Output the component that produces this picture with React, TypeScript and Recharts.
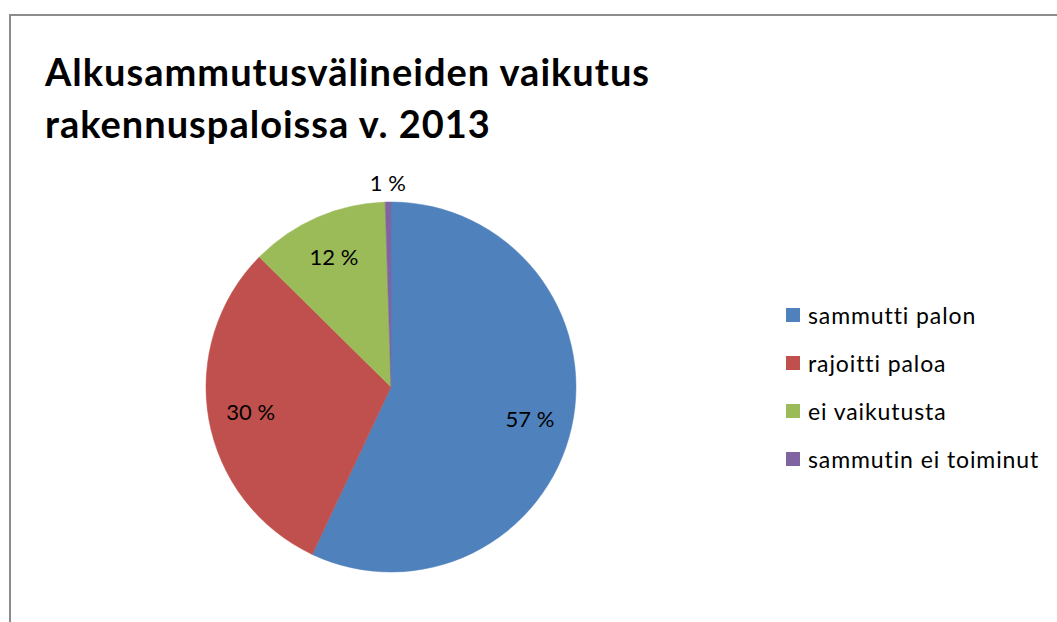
import { PieChart, Pie, Cell, Legend } from "recharts";

const categories = ["sammutti palon", "rajoitti paloa", "ei vaikutusta", "sammutin ei toiminut"];
const values = [57, 30.4, 12.1, 0.5];
const colors = ["#4F81BD", "#C0504D", "#9BBB59", "#8064A2"];
const title = ["Alkusammutusvälineiden vaikutus", "rakennuspaloissa v. 2013"];

const FONT = "Lato, 'Open Sans', sans-serif";

const data = categories.map((name, i) => ({ name, value: values[i] }));

function renderLabel(props: any) {
  const { cx, cy, midAngle, outerRadius, percent } = props;
  const RAD = Math.PI / 180;
  const r = percent < 0.02 ? outerRadius + 20 : outerRadius * 0.77;
  const x = cx + r * Math.cos(-midAngle * RAD);
  const y = cy + r * Math.sin(-midAngle * RAD);
  return (
    <text
      x={x}
      y={y}
      fill="#000"
      textAnchor="middle"
      dominantBaseline="central"
      style={{ fontFamily: FONT, fontSize: 22 }}
    >
      {`${Math.round(percent * 100)} %`}
    </text>
  );
}

function LegendBox() {
  return (
    <div style={{ fontFamily: FONT, fontSize: 23, letterSpacing: 0.9, color: "#000" }}>
      {data.map((d, i) => (
        <div key={d.name} style={{ display: "flex", alignItems: "center", height: 48 }}>
          <span style={{ width: 14, height: 14, background: colors[i], marginRight: 8, display: "inline-block" }} />
          <span>{d.name}</span>
        </div>
      ))}
    </div>
  );
}

export default function App() {
  return (
    <div style={{ position: "absolute", left: 0, top: 0, width: 1057, height: 622, overflow: "hidden", background: "#fff" }}>
      <div
        style={{
          position: "absolute",
          left: 9,
          top: 14,
          width: 1100,
          height: 700,
          border: "2px solid #8c8c8c",
        }}
      />
      <div
        style={{
          position: "absolute",
          left: 45,
          top: 45,
          fontFamily: FONT,
          fontWeight: 700,
          fontSize: 38,
          letterSpacing: 1,
          lineHeight: "52px",
          color: "#000",
        }}
      >
        {title[0]}
        <br />
        {title[1]}
      </div>
      <div style={{ position: "absolute", left: 0, top: 0 }}>
        <PieChart width={1057} height={622} margin={{ top: 0, right: 0, bottom: 0, left: 0 }}>
          <Pie
            data={data}
            dataKey="value"
            nameKey="name"
            cx={391}
            cy={387}
            outerRadius={185}
            startAngle={90}
            endAngle={-270}
            label={renderLabel}
            labelLine={false}
            isAnimationActive={false}
          >
            {data.map((d, i) => (
              <Cell key={d.name} fill={colors[i]} stroke={colors[i]} strokeWidth={0.5} />
            ))}
          </Pie>
          <Legend
            content={() => <LegendBox />}
            wrapperStyle={{ position: "absolute", left: 786, top: 291, width: 271 }}
          />
        </PieChart>
      </div>
    </div>
  );
}
